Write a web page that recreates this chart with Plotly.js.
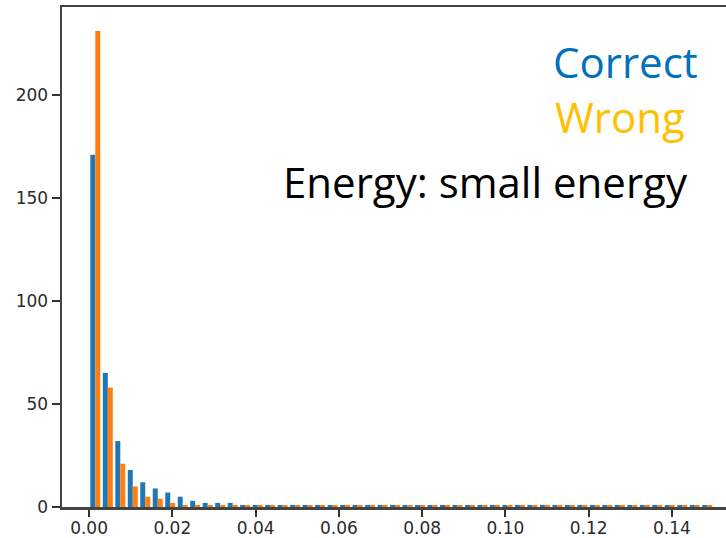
<!DOCTYPE html>
<html>
<head>
<meta charset="utf-8">
<script src="https://cdn.plot.ly/plotly-3.0.1.min.js"></script>
<style>html,body{margin:0;padding:0;background:#fff;overflow:hidden;}#chart{width:726px;height:538px;}</style>
</head>
<body>
<div id="chart"></div>
<script>
// Histogram bins: 50 bins of width 0.003 from 0 to 0.15 (bin centres)
const binWidth = 0.003;
const binCenters = [
  0.0015,0.0045,0.0075,0.0105,0.0135,0.0165,0.0195,0.0225,0.0255,0.0285,
  0.0315,0.0345,0.0375,0.0405,0.0435,0.0465,0.0495,0.0525,0.0555,0.0585,
  0.0615,0.0645,0.0675,0.0705,0.0735,0.0765,0.0795,0.0825,0.0855,0.0885,
  0.0915,0.0945,0.0975,0.1005,0.1035,0.1065,0.1095,0.1125,0.1155,0.1185,
  0.1215,0.1245,0.1275,0.1305,0.1335,0.1365,0.1395,0.1425,0.1455,0.1485
];
const correctCounts = [
  171,65,32,18,12,9,7,5,3,2,
  2,2,1,1,1,1,1,1,1,1,
  1,1,1,1,1,1,1,1,1,1,
  1,1,1,1,1,1,1,1,1,1,
  1,1,1,1,1,1,1,1,1,1
];
const wrongCounts = [
  231,58,21,10,5,4,2,1,1,1,
  1,1,1,1,1,1,1,1,1,1,
  1,1,1,1,1,1,1,1,1,1,
  1,1,1,1,1,1,1,1,1,1,
  1,1,1,1,1,1,1,1,1,1
];
const xTicks = [0, 0.02, 0.04, 0.06, 0.08, 0.10, 0.12, 0.14];
const xTickLabels = ["0.00","0.02","0.04","0.06","0.08","0.10","0.12","0.14"];
const yTicks = [0, 50, 100, 150, 200];

const traces = [
  {type:'bar', name:'Correct', x:binCenters, y:correctCounts, marker:{color:'#1f77b4', line:{width:0}}},
  {type:'bar', name:'Wrong', x:binCenters, y:wrongCounts, marker:{color:'#ff7f0e', line:{width:0}}}
];

const tickFont = {family:'DejaVu Sans', size:17, color:'#2a2a2a'};
const layout = {
  width:726, height:538,
  margin:{l:62, r:0, t:7, b:31},
  paper_bgcolor:'#ffffff', plot_bgcolor:'#ffffff',
  showlegend:false,
  barmode:'group', bargap:0.2, bargroupgap:0,
  xaxis:{
    range:[-0.0065, 0.1530],
    tickvals:xTicks, ticktext:xTickLabels,
    ticks:'outside', ticklen:7, tickwidth:2, tickcolor:'#333333',
    ticklabelstandoff:-3,
    showline:true, linecolor:'#444444', linewidth:2.5, mirror:true,
    showgrid:false, zeroline:false, tickfont:tickFont,
    layer:'above traces'
  },
  yaxis:{
    range:[0, 242.7],
    tickvals:yTicks,
    ticks:'outside', ticklen:8, tickwidth:2, tickcolor:'#333333',
    showline:true, linecolor:'#444444', linewidth:2.5,
    showgrid:false, zeroline:false, tickfont:tickFont,
    layer:'above traces'
  },
  annotations:[
    {xref:'paper', yref:'paper', x:0.961, y:0.89, xanchor:'right', yanchor:'middle', showarrow:false,
     text:'Correct', font:{family:'Open Sans', size:42, color:'#0070C0'}},
    {xref:'paper', yref:'paper', x:0.941, y:0.78, xanchor:'right', yanchor:'middle', showarrow:false,
     text:'Wrong', font:{family:'Open Sans', size:42, color:'#FFC000'}},
    {xref:'paper', yref:'paper', x:0.946, y:0.652, xanchor:'right', yanchor:'middle', showarrow:false,
     text:'Energy: small energy', font:{family:'Open Sans', size:42, color:'#000000'}}
  ]
};
Plotly.newPlot('chart', traces, layout, {displayModeBar:false, staticPlot:true});
</script>
</body>
</html>
